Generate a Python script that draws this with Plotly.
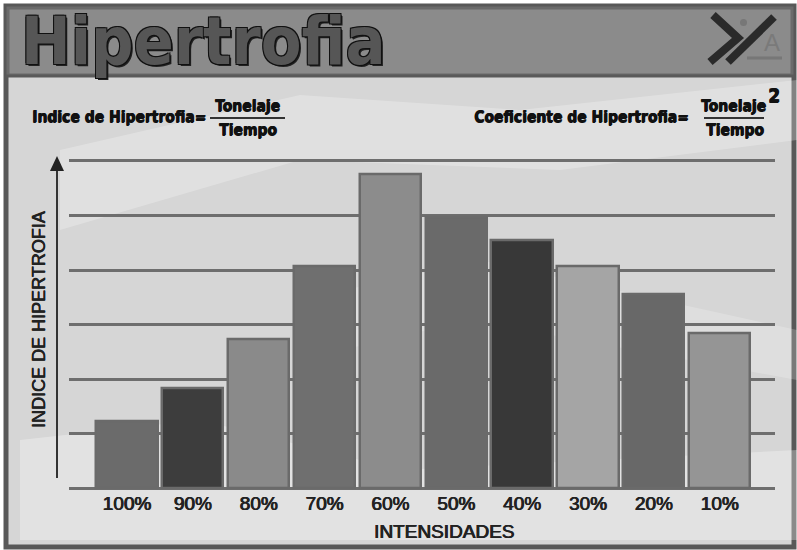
import plotly.graph_objects as go

# ---------------- data ----------------
categories = ["100%", "90%", "80%", "70%", "60%", "50%", "40%", "30%", "20%", "10%"]
values = [1.23, 1.83, 2.72, 4.07, 5.76, 4.97, 4.55, 4.06, 3.56, 2.84]
bar_colors = ["#6b6b6b", "#3d3d3d", "#8a8a8a", "#6f6f6f", "#8c8c8c",
              "#6a6a6a", "#383838", "#a5a5a5", "#686868", "#959595"]
grid_ticks = [0, 1, 2, 3, 4, 5, 6]

W, H = 797, 550


def fx(x):
    return x / W


def fy(y):
    return 1 - y / H


def P(x, y):
    return f"{fx(x):.5f},{fy(y):.5f}"


fig = go.Figure()
fig.add_trace(go.Bar(
    x=list(range(len(categories))), y=values,
    marker=dict(color=bar_colors, line=dict(color="#6a6a6a", width=2.5)),
    width=0.93, hoverinfo="skip",
))

shapes = []
# outer frame + content background
shapes.append(dict(type="rect", xref="paper", yref="paper", layer="below",
                   x0=fx(6), x1=fx(794), y0=fy(547), y1=fy(6),
                   fillcolor="#d6d6d6", line=dict(color="#585858", width=5)))
# a few soft light streaks (marble look)
for pts, op in [([(60, 150), (300, 95), (520, 110), (797, 80), (797, 140), (560, 170), (300, 160), (60, 230)], 0.25),
                ([(300, 300), (480, 260), (797, 330), (797, 380), (470, 320), (300, 360)], 0.2),
                ([(20, 440), (200, 420), (400, 470), (797, 450), (797, 540), (20, 540)], 0.3)]:
    path = "M " + " L ".join(P(x, y) for x, y in pts) + " Z"
    shapes.append(dict(type="path", xref="paper", yref="paper", layer="below",
                       path=path, fillcolor="#ffffff", opacity=op, line=dict(width=0)))
# banner
shapes.append(dict(type="rect", xref="paper", yref="paper", layer="below",
                   x0=fx(8), x1=fx(792), y0=fy(75), y1=fy(8),
                   fillcolor="#8b8b8b", line=dict(color="#6a6a6a", width=3)))
shapes.append(dict(type="line", xref="paper", yref="paper", layer="below",
                   x0=fx(6), x1=fx(794), y0=fy(76), y1=fy(76),
                   line=dict(color="#5a5a5a", width=3)))
# logo
shapes.append(dict(type="path", xref="paper", yref="paper",
                   path=f"M {P(713, 15)} L {P(738, 38)} L {P(710, 62)}",
                   line=dict(color="#2a2a2a", width=8)))
shapes.append(dict(type="line", xref="paper", yref="paper",
                   x0=fx(728), y0=fy(62), x1=fx(774), y1=fy(17),
                   line=dict(color="#2a2a2a", width=8)))
shapes.append(dict(type="circle", xref="paper", yref="paper",
                   x0=fx(740), x1=fx(747), y0=fy(26), y1=fy(19),
                   fillcolor="#777777", line=dict(width=0)))
shapes.append(dict(type="line", xref="paper", yref="paper",
                   x0=fx(747), y0=fy(58), x1=fx(782), y1=fy(58),
                   line=dict(color="#777777", width=3)))
# fraction bars
shapes.append(dict(type="line", xref="paper", yref="paper",
                   x0=fx(210), x1=fx(285), y0=fy(118), y1=fy(118),
                   line=dict(color="#333333", width=2)))
shapes.append(dict(type="line", xref="paper", yref="paper",
                   x0=fx(704), x1=fx(764), y0=fy(118), y1=fy(118),
                   line=dict(color="#333333", width=2)))
# y-axis arrow
shapes.append(dict(type="line", xref="paper", yref="paper",
                   x0=fx(57), x1=fx(57), y0=fy(478), y1=fy(168),
                   line=dict(color="#333333", width=2)))
shapes.append(dict(type="path", xref="paper", yref="paper",
                   path=f"M {P(50, 171)} L {P(64, 171)} L {P(57, 156)} Z",
                   fillcolor="#222222", line=dict(width=0)))

HEAVY = "DejaVu Sans Condensed, DejaVu Sans, sans-serif"
ARIAL = "Liberation Sans, Arial, sans-serif"
THICK = "0.6px 0 0 #222, -0.3px 0 0 #222"
FORM = "0.8px 0 0 #111, 0 0.8px 0 #111"

ann = []
outline = "1px 1px 0 #111, -1px -1px 0 #111, 1px -1px 0 #111, -1px 1px 0 #111, 2px 2px 0 #222"
ann.append(dict(text="<b>Hipertrofia</b>", x=fx(203), y=fy(41), xref="paper", yref="paper",
                showarrow=False, xanchor="center", yanchor="middle",
                font=dict(family=HEAVY, size=66, color="#565656", shadow=outline)))
ann.append(dict(text="A", x=fx(772), y=fy(42), xref="paper", yref="paper",
                showarrow=False, xanchor="center", yanchor="middle",
                font=dict(family=ARIAL, size=24, color="#7a7a7a")))
# formulas
def ftext(text, x, y, anchor, size=15.5):
    return dict(text=f"<b>{text}</b>", x=fx(x), y=fy(y), xref="paper", yref="paper",
                showarrow=False, xanchor=anchor, yanchor="middle",
                font=dict(family=HEAVY, size=size, color="#111111", shadow=FORM))


ann.append(ftext("Indice de Hipertrofia=", 208, 117, "right"))
ann.append(ftext("Tonelaje", 247, 106, "center"))
ann.append(ftext("Tiempo", 248, 130, "center"))
ann.append(ftext("Coeficiente de Hipertrofia=", 691, 117, "right"))
ann.append(ftext("Tonelaje", 733, 106, "center"))
ann.append(ftext("2", 774, 95, "center", 19))
ann.append(ftext("Tiempo", 735, 130, "center"))
# axis titles
ann.append(dict(text="INDICE DE HIPERTROFIA", x=fx(39), y=fy(320), xref="paper", yref="paper",
                showarrow=False, xanchor="center", yanchor="middle", textangle=-90,
                font=dict(family=ARIAL, size=18, color="#222222", shadow=THICK)))
ann.append(dict(text="INTENSIDADES", x=fx(444), y=fy(531), xref="paper", yref="paper",
                showarrow=False, xanchor="center", yanchor="middle",
                font=dict(family=ARIAL, size=19, color="#222222", shadow=THICK)))

y_lo, y_hi = -0.03, 6.03
px_per = (488 - 161) / 6
dom_bot = fy(488 + (0 - y_lo) * px_per)
dom_top = fy(161 - (y_hi - 6) * px_per)

fig.update_layout(
    width=W, height=H,
    margin=dict(l=0, r=0, t=0, b=0),
    paper_bgcolor="#ffffff",
    plot_bgcolor="rgba(0,0,0,0)",
    showlegend=False,
    shapes=shapes,
    annotations=ann,
    bargap=0,
    xaxis=dict(domain=[fx(69), fx(775)], range=[-0.88, 9.84],
               tickmode="array", tickvals=list(range(len(categories))), ticktext=categories,
               showgrid=False, zeroline=False, showline=False, ticks="",
               tickfont=dict(family=ARIAL, size=19, color="#222222", shadow=THICK)),
    yaxis=dict(domain=[dom_bot, dom_top], range=[y_lo, y_hi],
               tickmode="array", tickvals=grid_ticks, showticklabels=False,
               showgrid=True, gridcolor="#6e6e6e", gridwidth=3,
               zeroline=False, showline=False, ticks=""),
)

fig.write_html("out.html")
